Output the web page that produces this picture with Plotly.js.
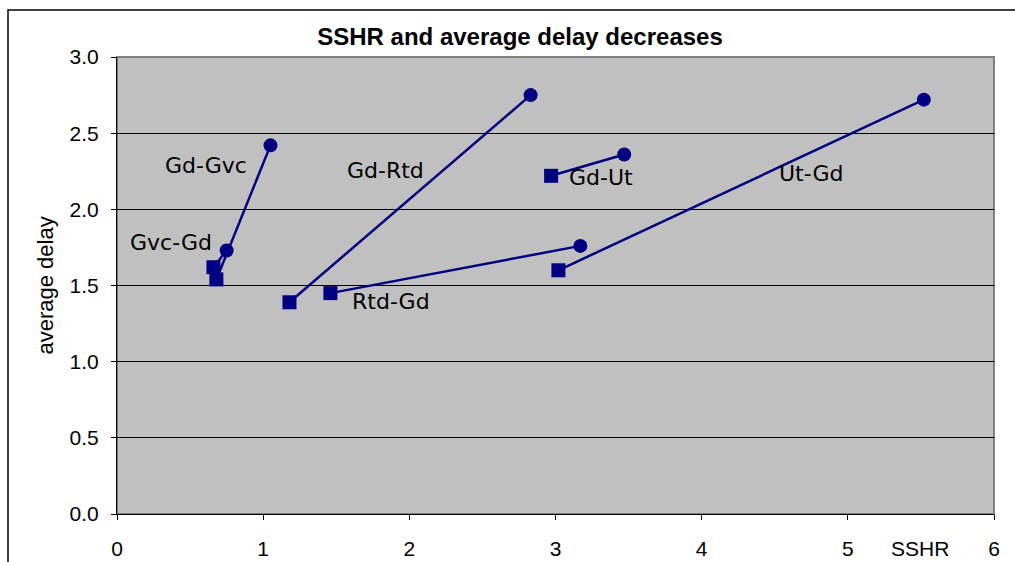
<!DOCTYPE html>
<html>
<head>
<meta charset="utf-8">
<script src="https://cdn.plot.ly/plotly-3.0.1.min.js"></script>
<style>html,body{margin:0;padding:0;background:#fff;}#chart{width:1015px;height:562px;}</style>
</head>
<body>
<div id="chart"></div>
<script>
// Pair names (transition labels)
const pairNames = ["Gd-Gvc", "Gvc-Gd", "Gd-Rtd", "Rtd-Gd", "Gd-Ut", "Ut-Gd"];
// Start point (square) SSHR and average delay
const startSSHR  = [0.68, 0.66, 1.18, 1.46, 2.97, 3.02];
const startDelay = [1.54, 1.62, 1.39, 1.45, 2.22, 1.60];
// End point (circle) SSHR and average delay
const endSSHR  = [1.05, 0.75, 2.83, 3.17, 3.47, 5.52];
const endDelay = [2.42, 1.73, 2.75, 1.76, 2.36, 2.72];
// Axis ticks
const yTicks = [0, 0.5, 1.0, 1.5, 2.0, 2.5, 3.0];
const yTickLabels = ["0.0", "0.5", "1.0", "1.5", "2.0", "2.5", "3.0"];
const xTicks = [0, 1, 2, 3, 4, 5, 6];

// Label placement (layout only)
const labelX = [0.61, 0.37, 1.84, 1.875, 3.31, 4.75];
const labelY = [2.285, 1.78, 2.258, 1.398, 2.206, 2.232];

const navy = "#000080";
const traces = pairNames.map((n, i) => ({
  type: "scatter",
  mode: "lines+markers",
  name: n,
  x: [startSSHR[i], endSSHR[i]],
  y: [startDelay[i], endDelay[i]],
  line: {color: navy, width: 2.5},
  marker: {color: navy, size: 14, symbol: ["square", "circle"]},
  hoverinfo: "x+y+name"
}));

const annotations = pairNames.map((n, i) => ({
  x: labelX[i], y: labelY[i], xref: "x", yref: "y",
  text: n, showarrow: false,
  font: {family: "DejaVu Sans, Verdana, sans-serif", size: 22, color: "#000"},
  xanchor: "center", yanchor: "middle"
}));
// Axis titles
annotations.push({
  xref: "paper", yref: "paper", x: (920 - 117) / 877, y: (514 - 548) / 457,
  text: "SSHR", showarrow: false, xanchor: "center", yanchor: "middle",
  font: {family: "Liberation Sans, Arial, sans-serif", size: 21, color: "#000"}
});
annotations.push({
  xref: "paper", yref: "paper", x: (45 - 117) / 877, y: 0.5,
  text: "average delay", showarrow: false, xanchor: "center", yanchor: "middle",
  textangle: -90,
  font: {family: "Liberation Sans, Arial, sans-serif", size: 22, color: "#000"}
});

const layout = {
  width: 1015, height: 562,
  margin: {l: 117, r: 21, t: 57, b: 48, pad: 0},
  paper_bgcolor: "#ffffff",
  plot_bgcolor: "#c0c0c0",
  showlegend: false,
  title: {
    text: "<b>SSHR and average delay decreases</b>",
    font: {family: "Liberation Sans, Arial, sans-serif", size: 24, color: "#000"},
    x: 520 / 1015, xref: "container", xanchor: "center",
    y: 1 - 37 / 562, yref: "container", yanchor: "middle"
  },
  xaxis: {
    range: [0, 6], tickvals: xTicks, ticktext: xTicks.map(String),
    showgrid: false, zeroline: false,
    showline: true, linecolor: "#000", linewidth: 1,
    ticks: "outside", ticklen: 5, tickcolor: "#000",
    ticklabelstandoff: 11,
    tickfont: {family: "Liberation Sans, Arial, sans-serif", size: 21, color: "#000"},
    fixedrange: true
  },
  yaxis: {
    range: [0, 3], tickvals: yTicks, ticktext: yTickLabels,
    showgrid: true, gridcolor: "#000", gridwidth: 1, zeroline: false,
    showline: true, linecolor: "#000", linewidth: 1,
    ticks: "outside", ticklen: 5, tickcolor: "#000",
    ticklabelstandoff: 8,
    tickfont: {family: "Liberation Sans, Arial, sans-serif", size: 21, color: "#000"},
    fixedrange: true
  },
  shapes: [
    {type: "rect", xref: "paper", yref: "paper", x0: 0, x1: 1, y0: 0, y1: 1,
     line: {color: "#808080", width: 2}, layer: "below", fillcolor: "rgba(0,0,0,0)"},
    {type: "rect", xref: "paper", yref: "paper",
     x0: (8 - 117) / 877, x1: 1.2, y0: -0.3, y1: (514 - 10) / 457,
     line: {color: "#000", width: 1.5}, fillcolor: "rgba(0,0,0,0)"}
  ],
  annotations: annotations
};

Plotly.newPlot("chart", traces, layout, {displayModeBar: false, staticPlot: true});
</script>
</body>
</html>
